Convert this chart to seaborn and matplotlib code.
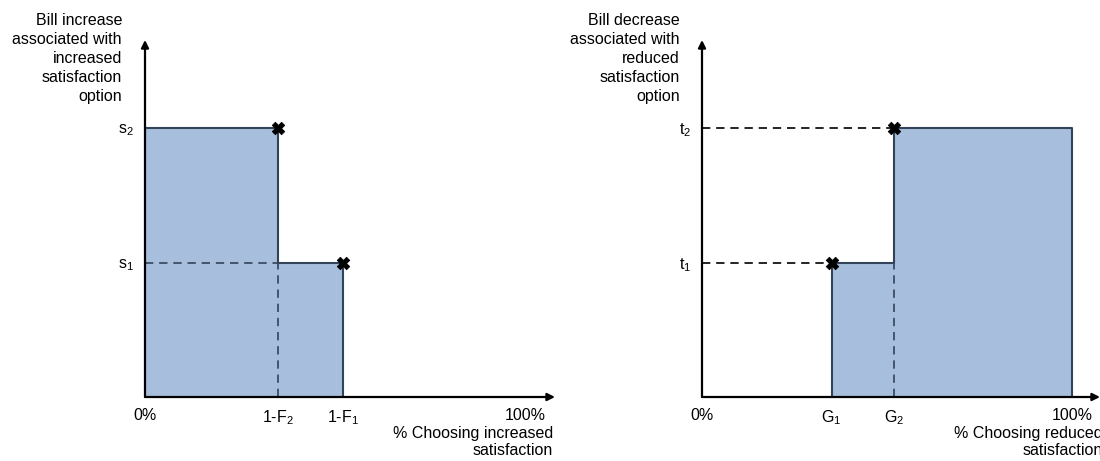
import matplotlib
matplotlib.use("Agg")
import matplotlib.pyplot as plt
import seaborn as sns
import pandas as pd

# ---- data ----
left_x_ticks = [0, 35, 52, 100]
left_x_labels = ["0%", "1-F$_2$", "1-F$_1$", "100%"]
left_levels = [1, 2]                 # s1, s2
left_level_labels = ["s$_1$", "s$_2$"]
left_bar_starts = [0, 35]
left_bar_widths = [35, 17]
left_bar_heights = [2, 1]
left_points_x = [35, 52]
left_points_y = [2, 1]

right_x_ticks = [0, 35, 52, 100]
right_x_labels = ["0%", "G$_1$", "G$_2$", "100%"]
right_levels = [1, 2]                # t1, t2
right_level_labels = ["t$_1$", "t$_2$"]
right_bar_starts = [35, 52]
right_bar_widths = [17, 48]
right_bar_heights = [1, 2]
right_points_x = [35, 52]
right_points_y = [1, 2]

left_ylabel = "Bill increase\nassociated with\nincreased\nsatisfaction\noption"
left_xlabel = "% Choosing increased\nsatisfaction"
right_ylabel = "Bill decrease\nassociated with\nreduced\nsatisfaction\noption"
right_xlabel = "% Choosing reduced\nsatisfaction"

# ---- style ----
sns.set_theme(style="white")
plt.rcParams["font.family"] = ["Liberation Sans", "DejaVu Sans"]
plt.rcParams["mathtext.fontset"] = "custom"
plt.rcParams["mathtext.rm"] = "Liberation Sans"
plt.rcParams["mathtext.it"] = "Liberation Sans:italic"
plt.rcParams["mathtext.default"] = "rm"
plt.rcParams["text.color"] = "black"
plt.rcParams["xtick.color"] = "black"
plt.rcParams["ytick.color"] = "black"
plt.rcParams["xtick.labelcolor"] = "black"
plt.rcParams["ytick.labelcolor"] = "black"

FS = 11.5
FILL = "#a7bfdc"
EDGE = "#33435a"

W, H = 1100, 461
fig = plt.figure(figsize=(W / 100, H / 100), dpi=100)


def px_axes(x0, x1, ytop, ybot):
    return fig.add_axes([x0 / W, (H - ybot) / H, (x1 - x0) / W, (ybot - ytop) / H])


axL = px_axes(145, 555, 40, 397)
axR = px_axes(702, 1100, 40, 397)
axL.set_xlim(0, 410 / 3.8)
axR.set_xlim(0, 398 / 3.7)
ymax = (397 - 40) / 134.5
for ax in (axL, axR):
    ax.set_ylim(0, ymax)
    for s in ax.spines.values():
        s.set_visible(False)
    ax.annotate("", xy=(1, 0), xytext=(0, 0), xycoords="axes fraction",
                arrowprops=dict(arrowstyle="-|>", color="black", lw=1.6,
                                mutation_scale=11, shrinkA=0, shrinkB=0),
                annotation_clip=False, zorder=6)
    ax.annotate("", xy=(0, 1), xytext=(0, 0), xycoords="axes fraction",
                arrowprops=dict(arrowstyle="-|>", color="black", lw=1.6,
                                mutation_scale=11, shrinkA=0, shrinkB=0),
                annotation_clip=False, zorder=6)
    ax.tick_params(axis="both", length=0, labelsize=FS, colors="black")
    ax.tick_params(axis="x", pad=8)
    ax.tick_params(axis="y", pad=8)
    ax.grid(False)

# ---- left panel ----
axL.bar(left_bar_starts, left_bar_heights, width=left_bar_widths, align="edge",
        color=FILL, linewidth=0, zorder=1)
outline_L = pd.DataFrame({
    "x": [0, left_points_x[0], left_points_x[0], left_points_x[1], left_points_x[1]],
    "y": [left_levels[1], left_levels[1], left_levels[0], left_levels[0], 0],
})
sns.lineplot(data=outline_L, x="x", y="y", sort=False, estimator=None,
             color=EDGE, lw=1.5, ax=axL, zorder=3)
axL.plot([0, left_points_x[0]], [left_levels[0], left_levels[0]], color=EDGE,
         lw=1.2, dashes=(5, 3.5), zorder=3)
axL.plot([left_points_x[0], left_points_x[0]], [0, left_levels[0]], color=EDGE,
         lw=1.2, dashes=(5, 3.5), zorder=3)
sns.scatterplot(x=left_points_x, y=left_points_y, marker="X", s=80,
                color="black", edgecolor="black", linewidth=0.6, ax=axL, zorder=5,
                clip_on=False)
axL.set_xticks(left_x_ticks, left_x_labels)
axL.set_yticks(left_levels, left_level_labels)
axL.set_xlabel("")
axL.set_ylabel("")

# ---- right panel ----
axR.bar(right_bar_starts, right_bar_heights, width=right_bar_widths, align="edge",
        color=FILL, linewidth=0, zorder=1)
outline_R = pd.DataFrame({
    "x": [right_points_x[0], right_points_x[0], right_points_x[1], right_points_x[1], 100, 100],
    "y": [0, right_levels[0], right_levels[0], right_levels[1], right_levels[1], 0],
})
sns.lineplot(data=outline_R, x="x", y="y", sort=False, estimator=None,
             color=EDGE, lw=1.5, ax=axR, zorder=3)
axR.plot([0, right_points_x[0]], [right_levels[0], right_levels[0]], color="black",
         lw=1.2, dashes=(5, 3.5), zorder=3)
axR.plot([0, right_points_x[1]], [right_levels[1], right_levels[1]], color="black",
         lw=1.2, dashes=(5, 3.5), zorder=3)
axR.plot([right_points_x[1], right_points_x[1]], [0, right_levels[0]], color=EDGE,
         lw=1.2, dashes=(5, 3.5), zorder=3)
sns.scatterplot(x=right_points_x, y=right_points_y, marker="X", s=80,
                color="black", edgecolor="black", linewidth=0.6, ax=axR, zorder=5,
                clip_on=False)
axR.set_xticks(right_x_ticks, right_x_labels)
axR.set_yticks(right_levels, right_level_labels)
axR.set_xlabel("")
axR.set_ylabel("")

# ---- axis titles ----
fig.text(122 / W, 1 - 13 / H, left_ylabel, ha="right", va="top", fontsize=FS,
         linespacing=1.33, color="black")
fig.text(680 / W, 1 - 13 / H, right_ylabel, ha="right", va="top", fontsize=FS,
         linespacing=1.33, color="black")
fig.text(553 / W, 1 - 426 / H, left_xlabel, ha="right", va="top", fontsize=FS,
         linespacing=1.2, color="black")
fig.text(1103 / W, 1 - 426 / H, right_xlabel, ha="right", va="top", fontsize=FS,
         linespacing=1.2, color="black")

fig.savefig("out.png", dpi=100, facecolor="white")
